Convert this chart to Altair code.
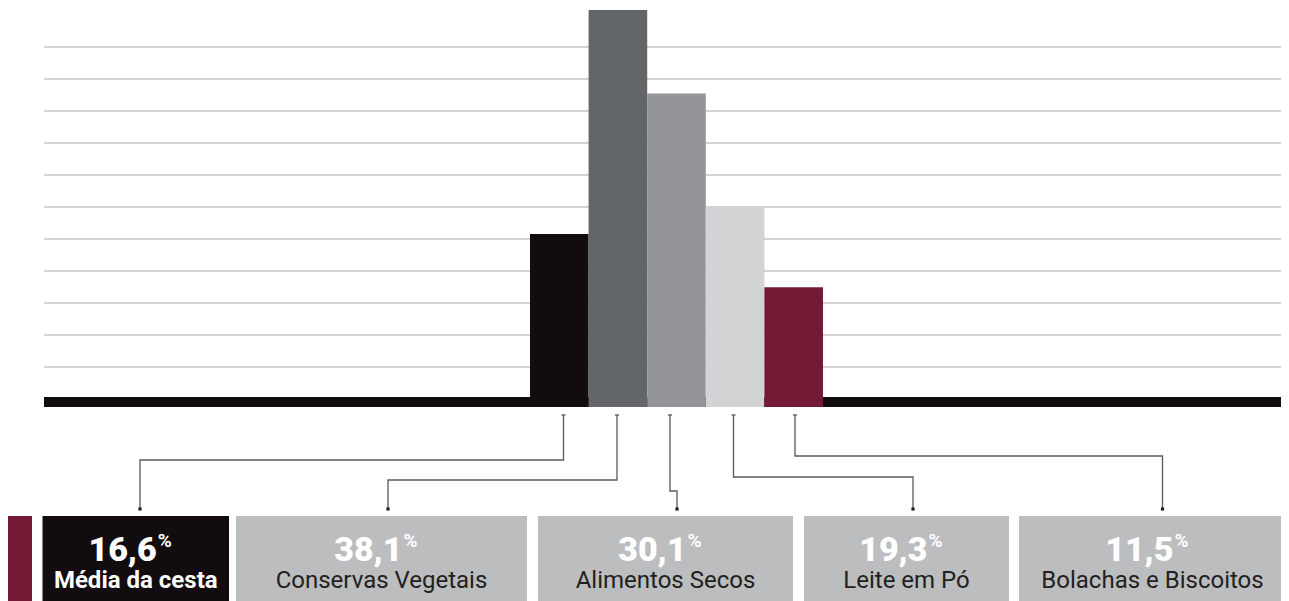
import altair as alt
import pandas as pd

# ---- data ----
categories = ["Média da cesta", "Conservas Vegetais", "Alimentos Secos", "Leite em Pó", "Bolachas e Biscoitos"]
values = [16.6, 38.1, 30.1, 19.3, 11.5]
value_labels = ["16,6", "38,1", "30,1", "19,3", "11,5"]
bar_colors = ["#120c0e", "#636669", "#939598", "#d1d3d4", "#731a35"]
grid_levels = list(range(1, 12))

# ---- layout constants (pixels of the svg) ----
W, H = 1273, 593
ZERO_Y = 399
BAR_LEFT, BAR_RIGHT = 522, 815
Y_MAX = 38.3

box_left = [34.5, 228, 530, 796, 1011]
box_right = [221, 519, 785, 1001, 1278]
box_fill = ["#120c0e", "#bbbdbf", "#bbbdbf", "#bbbdbf", "#bbbdbf"]
num_color = ["#ffffff"] * 5
lab_color = ["#ffffff", "#231f20", "#231f20", "#231f20", "#231f20"]
BOX_TOP = 508

conn_start = [555.5, 609, 662, 725.5, 787]
conn_elbow = [452, 472, 483, 469, 448]
conn_end = [132, 380, 669, 905, 1154.5]
CONN_TOP, CONN_BOT = 407, 501

NUM_FONT = "Roboto"

px_x = alt.Scale(domain=[0, W], range=[0, W])
px_y = alt.Scale(domain=[0, H], range=[0, H])


def X(f):
    return alt.X(f, type="quantitative", scale=px_x, axis=None)


def Y(f):
    return alt.Y(f, type="quantitative", scale=px_y, axis=None)


grid_df = pd.DataFrame({"lvl": grid_levels})
grid = alt.Chart(grid_df).mark_rule(color="#a7a9ac", strokeWidth=1.2).encode(
    x=alt.value(36), x2=alt.value(W + 10),
    y=alt.Y("lvl:Q", scale=alt.Scale(domain=[0, 12], range=[ZERO_Y - 8, ZERO_Y - 8 - 384]), axis=None),
)

base_df = pd.DataFrame({"x": [36], "x2": [W + 10], "y": [389], "y2": [ZERO_Y]})
baseline = alt.Chart(base_df).mark_rect(color="#120c0e").encode(
    x=X("x"), x2="x2", y=Y("y"), y2="y2"
)

bar_df = pd.DataFrame({"cat": categories, "val": values, "col": bar_colors})
bars = alt.Chart(bar_df).mark_bar(strokeWidth=0).encode(
    x=alt.X("cat:N", sort=categories,
            scale=alt.Scale(range=[BAR_LEFT, BAR_RIGHT], paddingInner=0, paddingOuter=0), axis=None),
    y=alt.Y("val:Q", scale=alt.Scale(domain=[0, Y_MAX], range=[ZERO_Y, 0]), axis=None),
    color=alt.Color("col:N", scale=None),
)

rows = []
for i in range(5):
    pts = [(conn_start[i], CONN_TOP), (conn_start[i], conn_elbow[i]),
           (conn_end[i], conn_elbow[i]), (conn_end[i], CONN_BOT)]
    for j, (a, b) in enumerate(pts):
        rows.append({"id": i, "seq": j, "x": a, "y": b})
conn_df = pd.DataFrame(rows)
connectors = alt.Chart(conn_df).mark_line(color="#58595b", strokeWidth=1.3).encode(
    x=X("x"), y=Y("y"), detail="id:N", order="seq:Q"
)
ends_df = pd.DataFrame({"x": conn_end, "y": [CONN_BOT] * 5})
ends = alt.Chart(ends_df).mark_point(shape="square", filled=True, size=10, color="#231f20", opacity=1).encode(
    x=X("x"), y=Y("y")
)
caps_df = pd.DataFrame({"x": [s - 2 for s in conn_start], "x2": [s + 2 for s in conn_start],
                        "y": [CONN_TOP] * 5})
caps = alt.Chart(caps_df).mark_rule(color="#58595b", strokeWidth=1.3).encode(
    x=X("x"), x2="x2", y=Y("y")
)

box_df = pd.DataFrame({
    "x": box_left, "x2": box_right, "y": [BOX_TOP] * 5, "y2": [H + 5] * 5, "col": box_fill,
    "cx": [(a + b) / 2 for a, b in zip(box_left, box_right)],
    "num": value_labels, "lab": categories, "ncol": num_color, "lcol": lab_color,
})
boxes = alt.Chart(box_df).mark_rect().encode(
    x=X("x"), x2="x2", y=Y("y"), y2="y2", color=alt.Color("col:N", scale=None)
)
side_df = pd.DataFrame({"x": [0], "x2": [24], "y": [BOX_TOP], "y2": [H + 5]})
side = alt.Chart(side_df).mark_rect(color="#731a35").encode(
    x=X("x"), x2="x2", y=Y("y"), y2="y2"
)

box_df["ny"] = 553
box_df["py"] = 538.5
box_df["ly"] = 580
nums = alt.Chart(box_df).mark_text(
    font=NUM_FONT, fontWeight=900, fontSize=34, align="right", baseline="alphabetic", dx=21
).encode(x=X("cx"), y=Y("ny"), text="num:N", color=alt.Color("ncol:N", scale=None))
pct = alt.Chart(box_df).mark_text(
    font=NUM_FONT, fontWeight="bold", fontSize=19, align="left", baseline="alphabetic", dx=22
).encode(x=X("cx"), y=Y("py"), text=alt.value("%"), color=alt.Color("ncol:N", scale=None))

lab_bold = alt.Chart(box_df.iloc[[0]]).mark_text(
    font="Roboto", fontWeight="bold", fontSize=24, align="center", baseline="alphabetic"
).encode(x=X("cx"), y=Y("ly"), text="lab:N", color=alt.Color("lcol:N", scale=None))
lab_norm = alt.Chart(box_df.iloc[1:]).mark_text(
    font="Roboto", fontWeight="normal", fontSize=24, align="center", baseline="alphabetic"
).encode(x=X("cx"), y=Y("ly"), text="lab:N", color=alt.Color("lcol:N", scale=None))

chart = alt.layer(
    grid, baseline, bars, connectors, caps, ends, side, boxes, nums, pct, lab_bold, lab_norm
).resolve_scale(x="independent", y="independent", color="independent").properties(
    width=W, height=H, padding=0, autosize="none", background="white"
).configure_view(stroke=None)

chart.save("out.html", embed_options={"renderer": "svg", "actions": False})
